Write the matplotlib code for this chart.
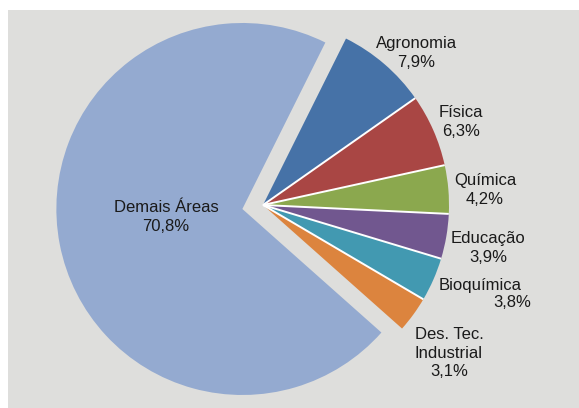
import matplotlib
matplotlib.use("Agg")
import matplotlib.pyplot as plt
import numpy as np
from matplotlib.patches import Rectangle

# data
areas = ["Agronomia", "Física", "Química", "Educação", "Bioquímica",
         "Des. Tec.\nIndustrial", "Demais Áreas"]
shares = [7.9, 6.3, 4.2, 3.9, 3.8, 3.1, 70.8]
colors = ["#4672a7", "#a94644", "#8ba84e", "#71578f", "#4299b1", "#dc843e", "#94aad0"]

# label positions (data coords, pie radius = 1)
label_pos = [(0.823, 0.817), (1.065, 0.446), (1.194, 0.081), (1.210, -0.231),
             None, (1.0, -0.796), (-0.522, -0.065)]

W, H = 579, 408
cx, cy, R = 263, 205, 186  # pie centre and radius in pixels
start = 63.5

plt.rcParams['font.family'] = ['Liberation Sans Narrow', 'Liberation Sans', 'DejaVu Sans']

fig = plt.figure(figsize=(W / 100, H / 100), dpi=100, facecolor="white")
ax = fig.add_axes([0, 0, 1, 1])
ax.set_facecolor("none")
ax.add_patch(Rectangle((8 / W, 0), 1, (H - 10) / H, transform=ax.transAxes,
                       facecolor="#dededc", edgecolor="none", zorder=-10, clip_on=False))

explode = [0] * (len(shares) - 1) + [0.113]
wedges, _ = ax.pie(shares, colors=colors, startangle=start, counterclock=False,
                   explode=explode, wedgeprops=dict(linewidth=0))

# white separators between the small slices only (no outline on the rim)
cum = np.cumsum(shares[:-1])[:-1]
for c in cum:
    a = np.deg2rad(start - c / sum(shares) * 360)
    ax.plot([0, np.cos(a)], [0, np.sin(a)], color="white", lw=1.4,
            solid_capstyle="butt", zorder=3)

ax.set_aspect("auto")
ax.set_xlim(-cx / R, (W - cx) / R)
ax.set_ylim(-(H - cy) / R, cy / R)
ax.axis("off")

fs = 12
for name, val, pos in zip(areas, shares, label_pos):
    if pos is None:
        continue
    txt = name + "\n" + f"{val:.1f}".replace(".", ",") + "%"
    ax.text(pos[0], pos[1], txt, ha="center", va="center", fontsize=fs,
            color="#1a1a1a", linespacing=1.3)

# Bioquímica label is split in the original
ax.text(1.167, -0.435, "Bioquímica", ha="center", va="center", fontsize=fs, color="#1a1a1a")
ax.text(1.339, -0.522, "3,8%", ha="center", va="center", fontsize=fs, color="#1a1a1a")

fig.savefig("out.png", dpi=100, facecolor="white")
